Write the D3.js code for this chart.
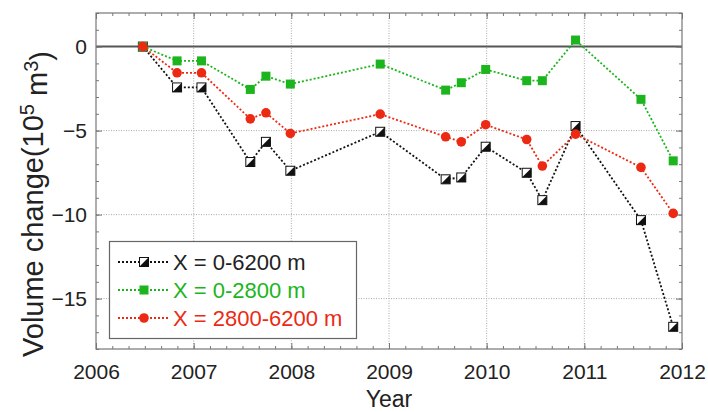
<!DOCTYPE html>
<html lang="en">
<head>
    <meta charset="utf-8">
    <style>
        body { margin: 0; background: #fff; }
        svg { display: block; }
        text { font-family: "Liberation Sans", Arial, sans-serif; }
        .tick line { stroke: #777; }
    </style>
</head>
<body>
    <svg width="708" height="412"></svg>
    <script src="https://cdn.jsdelivr.net/npm/d3@7"></script>
    <script>
        // Data (decimal years, volume change in 10^5 m^3)
        const years = [2006.48, 2006.83, 2007.08, 2007.58, 2007.74, 2007.99, 2008.91,
                       2009.58, 2009.74, 2009.99, 2010.41, 2010.57, 2010.91, 2011.58, 2011.91];
        const total = [0, -2.43, -2.43, -6.87, -5.67, -7.39, -5.07,
                       -7.9, -7.79, -5.96, -7.51, -9.14, -4.73, -10.33, -16.68];
        const upper = [0, -0.85, -0.85, -2.55, -1.76, -2.23, -1.04,
                       -2.59, -2.15, -1.36, -2.03, -2.03, 0.39, -3.14, -6.8];
        const lower = [0, -1.56, -1.56, -4.3, -3.94, -5.17, -4.02,
                       -5.37, -5.67, -4.65, -5.53, -7.11, -5.21, -7.19, -9.93];
        const seriesNames = ["X = 0-6200 m", "X = 0-2800 m", "X = 2800-6200 m"];
        const xTicks = [2006, 2007, 2008, 2009, 2010, 2011, 2012];
        const yTicks = [0, -5, -10, -15];

        const svg = d3.select("svg");
        const plotL = 96, plotR = 682, plotT = 13, plotB = 349;

        const x = d3.scaleLinear().domain([2006, 2012]).range([plotL, plotR]);
        const y = d3.scaleLinear().domain([-18, 2]).range([plotB, plotT]);

        /* grid */
        const grid = svg.append("g");
        grid.selectAll(".gx").data(xTicks.slice(1, -1)).join("line")
            .attr("x1", d => x(d)).attr("x2", d => x(d))
            .attr("y1", plotT).attr("y2", plotB)
            .attr("stroke", "#aaa").attr("stroke-dasharray", "1,1.5");
        grid.selectAll(".gy").data(yTicks.slice(1)).join("line")
            .attr("x1", plotL).attr("x2", plotR)
            .attr("y1", d => y(d)).attr("y2", d => y(d))
            .attr("stroke", "#aaa").attr("stroke-dasharray", "1,1.5");

        // zero line
        svg.append("line")
            .attr("x1", plotL).attr("x2", plotR)
            .attr("y1", y(0)).attr("y2", y(0))
            .attr("stroke", "#555").attr("stroke-width", 2);

        /* axes: ticks inward on all four sides */
        const xMinor = d3.range(2006, 2012.001, 1 / 6);
        const yMinor = d3.range(-18, 2.001, 1);
        const fmt = d3.format("d");

        function drawAxis(axis, tx, ty) {
            const g = svg.append("g").attr("transform", `translate(${tx},${ty})`).call(axis);
            g.select(".domain").remove();
            g.selectAll("text").style("font-size", "21px").style("fill", "#222");
            return g;
        }
        drawAxis(d3.axisBottom(x).tickValues(xTicks).tickFormat(fmt).tickSize(-6).tickPadding(15), 0, plotB);
        drawAxis(d3.axisBottom(x).tickValues(xMinor).tickFormat("").tickSize(-3), 0, plotB);
        drawAxis(d3.axisTop(x).tickValues(xTicks).tickFormat("").tickSize(-6), 0, plotT);
        drawAxis(d3.axisTop(x).tickValues(xMinor).tickFormat("").tickSize(-3), 0, plotT);
        drawAxis(d3.axisLeft(y).tickValues(yTicks).tickFormat(fmt).tickSize(-6).tickPadding(9), plotL, 0);
        drawAxis(d3.axisLeft(y).tickValues(yMinor).tickFormat("").tickSize(-3), plotL, 0);
        drawAxis(d3.axisRight(y).tickValues(yTicks).tickFormat("").tickSize(-6), plotR, 0);
        drawAxis(d3.axisRight(y).tickValues(yMinor).tickFormat("").tickSize(-3), plotR, 0);

        // frame
        svg.append("rect")
            .attr("x", plotL).attr("y", plotT)
            .attr("width", plotR - plotL).attr("height", plotB - plotT)
            .attr("fill", "none").attr("stroke", "#777").attr("stroke-width", 1.2);

        // axis titles
        svg.append("text")
            .attr("x", (plotL + plotR) / 2).attr("y", 407)
            .attr("text-anchor", "middle")
            .style("font-size", "23px").style("fill", "#222")
            .text("Year");

        const yLabel = svg.append("text")
            .attr("transform", "translate(43,204) rotate(-90)")
            .attr("text-anchor", "middle")
            .style("font-size", "29px").style("fill", "#222");
        yLabel.append("tspan").text("Volume change(10");
        yLabel.append("tspan").attr("dy", "-0.45em").style("font-size", "20px").text("5");
        yLabel.append("tspan").attr("dy", "0.45em").text(" m");
        yLabel.append("tspan").attr("dy", "-0.45em").style("font-size", "20px").text("3");
        yLabel.append("tspan").attr("dy", "0.45em").text(")");

        /* series */
        const series = [
            { name: seriesNames[0], values: total, color: "#111", marker: "half" },
            { name: seriesNames[1], values: upper, color: "#1db51d", marker: "square" },
            { name: seriesNames[2], values: lower, color: "#ec2a14", marker: "circle" }
        ];

        const line = d3.line().x(d => x(d[0])).y(d => y(d[1]));

        function drawMarker(g, type, color) {
            const s = 9;
            if (type === "half") {
                g.append("rect").attr("x", -s / 2).attr("y", -s / 2).attr("width", s).attr("height", s)
                    .attr("fill", "#fff").attr("stroke", "#111").attr("stroke-width", 1);
                g.append("path")
                    .attr("d", `M${s / 2},${-s / 2}L${s / 2},${s / 2}L${-s / 2},${s / 2}Z`)
                    .attr("fill", "#111");
            } else if (type === "square") {
                g.append("rect").attr("x", -s / 2).attr("y", -s / 2).attr("width", s).attr("height", s)
                    .attr("fill", color);
            } else {
                g.append("circle").attr("r", 4.8).attr("fill", color);
            }
        }

        series.forEach(s => {
            const pts = years.map((t, i) => [t, s.values[i]]);
            svg.append("path")
                .datum(pts)
                .attr("d", line)
                .attr("fill", "none")
                .attr("stroke", s.color)
                .attr("stroke-width", 1.8)
                .attr("stroke-dasharray", "2,2");
            svg.append("g").selectAll("g").data(pts).join("g")
                .attr("transform", d => `translate(${x(d[0])},${y(d[1])})`)
                .each(function() { drawMarker(d3.select(this), s.marker, s.color); });
        });

        /* legend */
        const legend = svg.append("g");
        legend.append("rect")
            .attr("x", 109.5).attr("y", 241.5).attr("width", 247).attr("height", 97)
            .attr("fill", "#fff").attr("stroke", "#666").attr("stroke-width", 1.2);
        series.forEach((s, i) => {
            const ly = 262 + i * 28;
            const item = legend.append("g");
            item.append("line")
                .attr("x1", 118).attr("x2", 168).attr("y1", ly).attr("y2", ly)
                .attr("stroke", s.color).attr("stroke-width", 1.8).attr("stroke-dasharray", "2,2");
            drawMarker(item.append("g").attr("transform", `translate(144,${ly})`), s.marker, s.color);
            item.append("text")
                .attr("x", 173).attr("y", ly + 8)
                .style("font-size", "22px")
                .style("fill", i === 0 ? "#222" : s.color)
                .text(s.name);
        });
    </script>
</body>
</html>
